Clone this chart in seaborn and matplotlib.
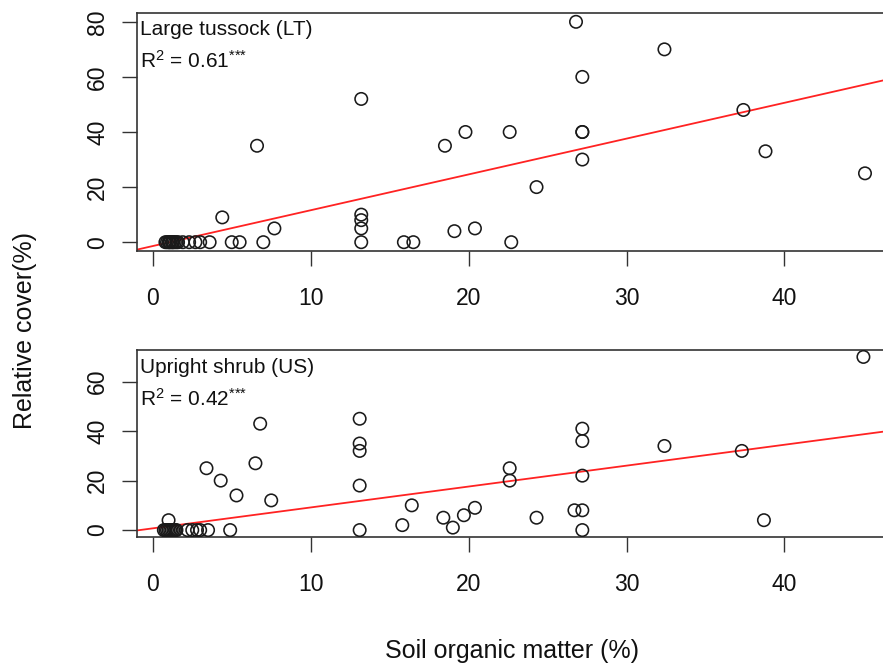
import matplotlib
matplotlib.use("Agg")
import matplotlib.pyplot as plt
import pandas as pd
import seaborn as sns

# Large tussock (LT) relative cover vs soil organic matter
lt_som = [0.8, 0.9, 1.0, 1.05, 1.1, 1.2, 1.25, 1.3, 1.4, 1.5, 1.6,
          1.9, 2.3, 2.7, 3.0, 3.6, 4.4, 5.0, 5.5, 6.6, 7.0, 7.7,
          13.2, 13.2, 13.2, 13.2, 13.2, 15.9, 16.5, 18.5, 19.1, 19.8,
          20.4, 22.6, 22.7, 24.3, 26.8, 27.2, 27.2, 27.2, 27.2,
          32.4, 37.4, 38.8, 45.1]
lt_cover = [0, 0, 0, 0, 0, 0, 0, 0, 0, 0, 0,
            0, 0, 0, 0, 0, 9, 0, 0, 35, 0, 5,
            52, 10, 8, 5, 0, 0, 0, 35, 4, 40,
            5, 40, 0, 20, 80, 60, 40, 40, 30,
            70, 48, 33, 25]

# Upright shrub (US)
us_som = [0.7, 0.8, 0.9, 1.0, 1.0, 1.1, 1.2, 1.3, 1.4, 1.5,
          2.2, 2.5, 2.8, 3.0, 3.4, 3.5, 4.3, 4.9, 5.3, 6.5, 6.8, 7.5,
          13.1, 13.1, 13.1, 13.1, 13.1, 15.8, 16.4, 18.4, 19.0, 19.7,
          20.4, 22.6, 22.6, 24.3, 26.7, 27.2, 27.2, 27.2, 27.2, 27.2,
          32.4, 37.3, 38.7, 45.0]
us_cover = [0, 0, 0, 4, 0, 0, 0, 0, 0, 0,
            0, 0, 0, 0, 25, 0, 20, 0, 14, 27, 43, 12,
            45, 35, 32, 18, 0, 2, 10, 5, 1, 6,
            9, 25, 20, 5, 8, 41, 36, 22, 8, 0,
            34, 32, 4, 70]

# fitted lines (intercept, slope)
lt_fit = (-1.4, 1.30)
us_fit = (0.7, 0.845)

panel_titles = ["Large tussock (LT)", "Upright shrub (US)"]
panel_r2 = [r"R$^{2}$ = 0.61$^{{*}{*}{*}}$", r"R$^{2}$ = 0.42$^{{*}{*}{*}}$"]
y_ticks = [[0, 20, 40, 60, 80], [0, 20, 40, 60]]
x_ticks = [0, 10, 20, 30, 40]

sns.set_style("white")
plt.rcParams["font.family"] = ["Liberation Sans", "DejaVu Sans"]
plt.rcParams["mathtext.fontset"] = "custom"
plt.rcParams["mathtext.rm"] = "Liberation Sans"
plt.rcParams["mathtext.it"] = "Liberation Sans:italic"
plt.rcParams["mathtext.bf"] = "Liberation Sans:bold"

W, H = 883, 668
fig = plt.figure(figsize=(W / 100, H / 100), dpi=100)

def px_axes(left, top, right, bottom):
    return fig.add_axes([left / W, 1 - bottom / H, (right - left) / W, (bottom - top) / H])

ax_top = px_axes(137, 13, 895, 251)
ax_bot = px_axes(137, 350, 895, 537)

panels = [
    (ax_top, pd.DataFrame({"som": lt_som, "cover": lt_cover}), lt_fit, (-3.2, 83.2)),
    (ax_bot, pd.DataFrame({"som": us_som, "cover": us_cover}), us_fit, (-2.8, 72.8)),
]
title_y = [(0.93, 0.80), (0.905, 0.74)]

for i, (ax, df, fit, ylim) in enumerate(panels):
    sns.scatterplot(data=df, x="som", y="cover", ax=ax, marker="o", s=80,
                    facecolor="none", edgecolor="#1a1a1a", linewidth=1.15, zorder=3)
    ax.axline((0, fit[0]), slope=fit[1], color="#ff2222", lw=1.3, zorder=2)
    ax.set_xlim(-1.0, 47.0)
    ax.set_ylim(*ylim)
    ax.set_xticks(x_ticks)
    ax.set_yticks(y_ticks[i])
    ax.set_xlabel("")
    ax.set_ylabel("")
    ax.tick_params(axis="both", which="major", direction="out", length=11, width=1.0,
                   color="#333333", labelsize=16.5, labelcolor="#111111",
                   bottom=True, left=True)
    ax.tick_params(axis="x", pad=15)
    ax.tick_params(axis="y", labelrotation=90, pad=9)
    for lab in ax.get_yticklabels():
        lab.set_va("center")
    for sp in ax.spines.values():
        sp.set_visible(True)
        sp.set_color("#333333")
        sp.set_linewidth(1.2)
    ax.text(0.004, title_y[i][0], panel_titles[i], transform=ax.transAxes, fontsize=15,
            ha="left", va="center", color="#111111")
    ax.text(0.004, title_y[i][1], panel_r2[i], transform=ax.transAxes,
            fontsize=15, ha="left", va="center", color="#111111")

fig.text(25 / W, 1 - 330 / H, "Relative cover(%)", rotation=90, ha="center",
         va="center", fontsize=18, color="#111111")
fig.text(512 / W, 1 - 651 / H, "Soil organic matter (%)", ha="center",
         va="center", fontsize=18, color="#111111")

fig.savefig("out.png", dpi=100)
plt.close(fig)
